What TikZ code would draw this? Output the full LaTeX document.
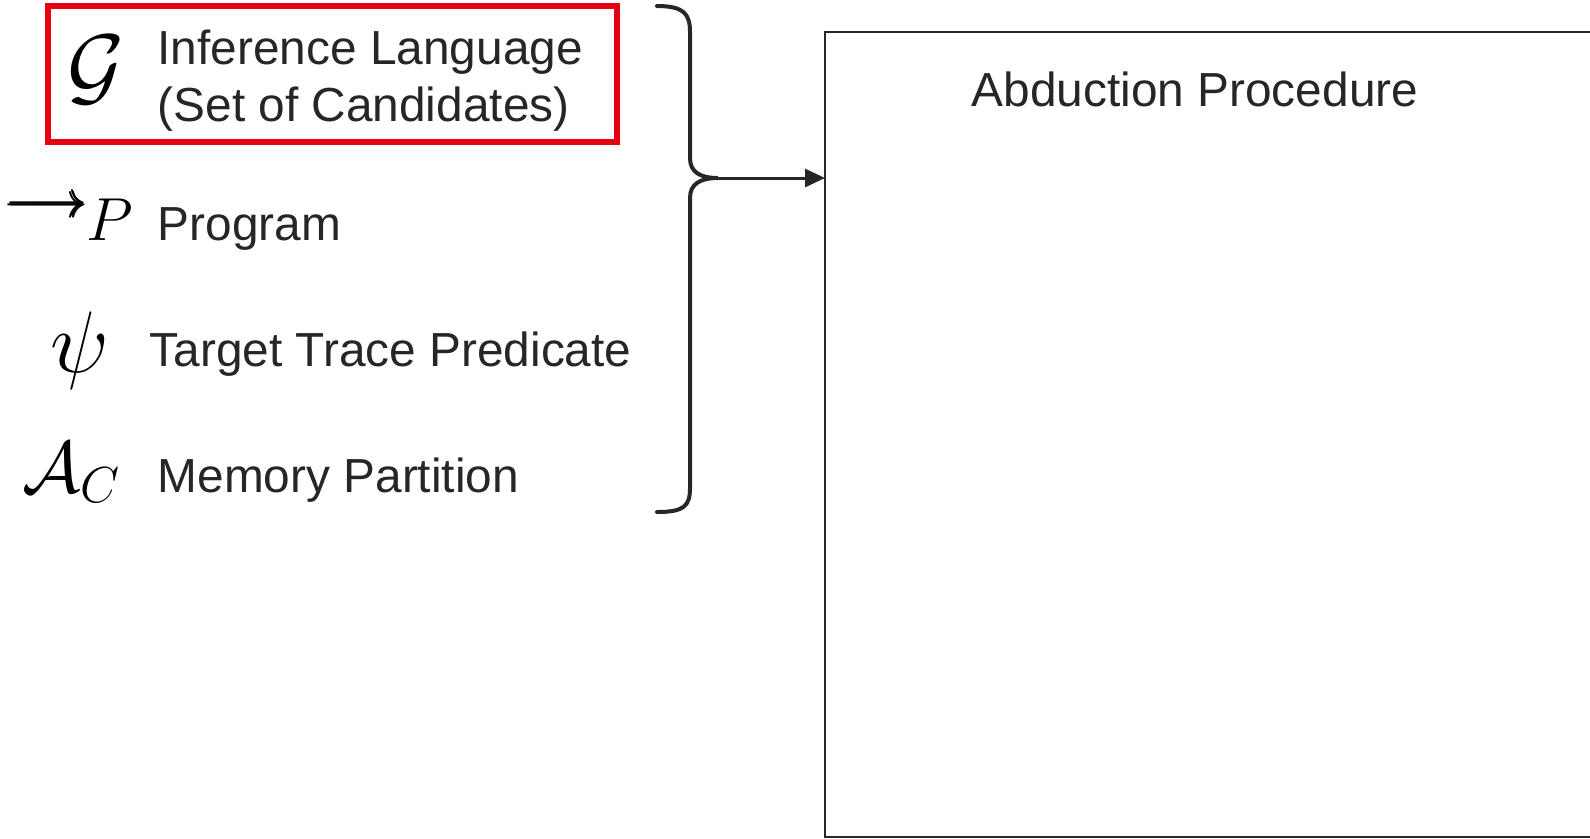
\documentclass[tikz,border=0pt]{standalone}
\usepackage{amsmath,amssymb}
\usepackage{fontspec}
\setmainfont{Liberation Sans}
\usetikzlibrary{arrows.meta}

\definecolor{rougecadre}{RGB}{230,0,18}
\definecolor{grisfonce}{RGB}{38,38,38}

\tikzset{
  texte/.style={anchor=base west, inner sep=0pt, align=left, text=grisfonce,
    font=\fontsize{13.6}{16.2}\selectfont},
  symbole/.style={inner sep=0pt, text=black},
  accolade/.style={draw=grisfonce, line width=0.4mm, line cap=round},
  fleche/.style={draw=grisfonce, line width=0.3mm, -{Triangle[length=2mm,width=1.8mm]}},
}

\begin{document}
\begin{tikzpicture}[x=0.1mm,y=-0.1mm]
  \useasboundingbox (0,0) rectangle (1590,838);

  % Cadre rouge autour du langage d'inference
  \draw[rougecadre, line width=0.55mm] (48,6) rectangle (617,142);

  % Symboles mathematiques a gauche
  \node[symbole] (G) at (96,70) {\fontsize{28}{28}\selectfont$\mathcal{G}$};
  \node[symbole] (fl) at (47,207) {\fontsize{14}{15}\selectfont$\pmb{\longrightarrow}$};
  \node[symbole, anchor=base] (P) at (110,240) {\fontsize{16.5}{17}\selectfont$P$};
  \node[symbole] (psi) at (80,351) {\fontsize{23}{23}\selectfont$\psi$};
  \node[symbole, anchor=base west] (AC) at (22,492)
    {\fontsize{21}{21}\selectfont$\mathcal{A}_{\mbox{\fontsize{15}{15}\selectfont$C$}}$};

  % Textes des entrees
  \node[texte] (langage) at (157,121) {Inference Language\\(Set of Candidates)};
  \node[texte] (programme) at (157,240) {Program};
  \node[texte] (predicat) at (149,366) {Target Trace Predicate};
  \node[texte] (memoire) at (157,492) {Memory Partition};

  % Accolade qui regroupe les entrees
  \draw[accolade] (657,6) .. controls (684,6) and (690,14) .. (690,32)
    -- (690,158) .. controls (690,172) and (700,178) .. (718,178)
    .. controls (700,178) and (690,184) .. (690,198)
    -- (690,488) .. controls (690,506) and (684,512) .. (657,512);
  \coordinate (pointe) at (718,178);

  % Boite de la procedure d'abduction (coupee a droite)
  \node[draw=grisfonce, line width=0.2mm, inner sep=0pt, outer sep=0pt,
    minimum width=77.5mm, minimum height=80.5mm, anchor=north west]
    (abduction) at (825,32) {};
  \node[texte, anchor=base] (titre) at (1195,106) {Abduction Procedure};

  \draw[fleche] (pointe) -- (pointe -| abduction.west);
\end{tikzpicture}
\end{document}
